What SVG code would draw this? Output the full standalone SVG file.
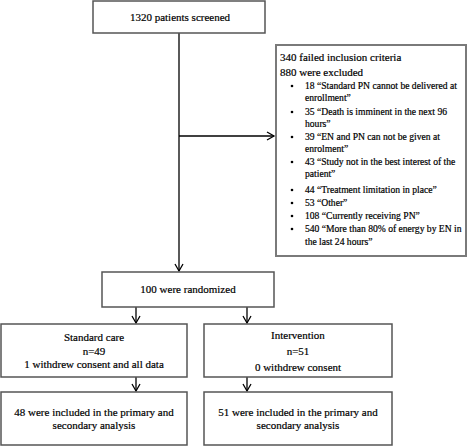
<svg xmlns="http://www.w3.org/2000/svg" width="473" height="446" viewBox="0 0 473 446">
<defs>
<marker id="ah" markerWidth="10" markerHeight="10" refX="8" refY="5" orient="auto" markerUnits="userSpaceOnUse">
<path d="M1,1 L8,5 L1,9" fill="none" stroke="#000" stroke-width="1.3"/>
</marker>
<style>
.box{fill:#fff;stroke:#555;stroke-width:1.5}
.gbox{fill:#fff;stroke:#7a7a7a;stroke-width:2}
text{font-family:"Liberation Serif","Times New Roman",serif;fill:#000;stroke:#000;stroke-width:0.2}
.t{font-size:11px;text-anchor:middle}
.h{font-size:11px}
.b{font-size:9.6px}
.c{fill:none;stroke:#000;stroke-width:1.3}
</style>
</defs>
<g id="connectors">
<path class="c" d="M179,33 V271" marker-end="url(#ah)"/>
<path class="c" d="M179,136 H274" marker-end="url(#ah)"/>
<path class="c" d="M136,307 V323" marker-end="url(#ah)"/>
<path class="c" d="M247,307 V323" marker-end="url(#ah)"/>
<path class="c" d="M136,377 V391" marker-end="url(#ah)"/>
<path class="c" d="M247,377 V391" marker-end="url(#ah)"/>
</g>
<g id="screened">
<rect class="box" x="93" y="1" width="172" height="32"/>
<text class="t" x="180" y="21">1320 patients screened</text>
</g>
<g id="excluded">
<rect class="gbox" x="276" y="45" width="190" height="211"/>
<text class="h" x="280" y="61">340 failed inclusion criteria</text>
<text class="h" x="280" y="76">880 were excluded</text>
<g class="b">
<circle cx="292" cy="86" r="1.3"/><text x="305" y="89">18 “Standard PN cannot be delivered at</text>
<text x="305" y="101">enrollment”</text>
<circle cx="292" cy="112" r="1.3"/><text x="305" y="115">35 “Death is imminent in the next 96</text>
<text x="305" y="127">hours”</text>
<circle cx="292" cy="137" r="1.3"/><text x="305" y="140">39 “EN and PN can not be given at</text>
<text x="305" y="152">enrolment”</text>
<circle cx="292" cy="162" r="1.3"/><text x="305" y="165">43 “Study not in the best interest of the</text>
<text x="305" y="177">patient”</text>
<circle cx="292" cy="190" r="1.3"/><text x="305" y="193">44 “Treatment limitation in place”</text>
<circle cx="292" cy="203" r="1.3"/><text x="305" y="206">53 “Other”</text>
<circle cx="292" cy="216" r="1.3"/><text x="305" y="219">108 “Currently receiving PN”</text>
<circle cx="292" cy="229" r="1.3"/><text x="305" y="232">540 “More than 80% of energy by EN in</text>
<text x="305" y="245">the last 24 hours”</text>
</g>
</g>
<g id="randomized">
<rect class="box" x="102" y="272" width="172" height="35"/>
<text class="t" x="188" y="293">100 were randomized</text>
</g>
<g id="standard">
<rect class="box" x="1" y="324" width="186" height="53"/>
<text class="t" x="94" y="341">Standard care</text>
<text class="t" x="94" y="355">n=49</text>
<text class="t" x="94" y="368">1 withdrew consent and all data</text>
</g>
<g id="intervention">
<rect class="box" x="204" y="324" width="188" height="53"/>
<text class="t" x="298" y="339">Intervention</text>
<text class="t" x="298" y="355">n=51</text>
<text class="t" x="298" y="371">0 withdrew consent</text>
</g>
<g id="std-analysis">
<rect class="box" x="1" y="392" width="186" height="53"/>
<text class="t" x="94" y="416">48 were included in the primary and</text>
<text class="t" x="94" y="429">secondary analysis</text>
</g>
<g id="int-analysis">
<rect class="box" x="204" y="392" width="188" height="53"/>
<text class="t" x="298" y="416">51 were included in the primary and</text>
<text class="t" x="298" y="429">secondary analysis</text>
</g>
</svg>
